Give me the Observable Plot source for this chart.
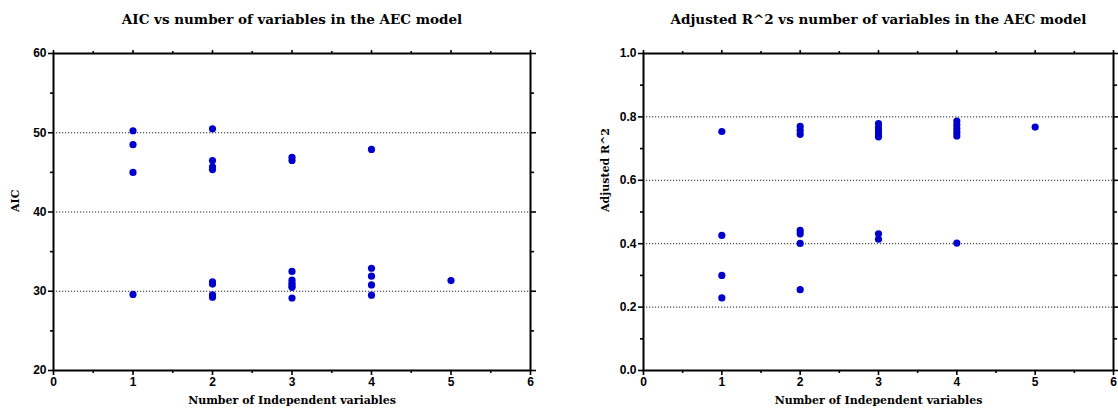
<!DOCTYPE html>
<html>
<head>
<meta charset="utf-8">
<script src="https://cdn.jsdelivr.net/npm/d3@7"></script>
<script src="https://cdn.jsdelivr.net/npm/@observablehq/plot@0.6"></script>
<style>
  html, body { margin: 0; padding: 0; background: #fff; }
  #wrap { position: relative; width: 1118px; height: 412px; overflow: hidden; }
  #left, #right { position: absolute; top: 0; }
  #left { left: 0; }
  #right { left: 559px; }
</style>
</head>
<body>
<div id="wrap"><div id="left"></div><div id="right"></div></div>
<script>
// ---- Data ----
const aicX = [1,1,1,1, 2,2,2,2,2,2,2,2, 3,3,3,3,3,3,3,3, 4,4,4,4,4, 5];
const aicY = [50.25,48.5,45.0,29.6, 50.5,46.5,45.7,45.35,31.2,30.9,29.55,29.25, 46.9,46.5,32.5,31.4,31.0,30.7,30.5,29.15, 47.9,32.9,31.9,30.8,29.5, 31.35];

const r2X = [1,1,1,1, 2,2,2,2,2,2,2, 3,3,3,3,3,3,3, 4,4,4,4,4,4, 5];
const r2Y = [0.754,0.426,0.300,0.229, 0.770,0.757,0.745,0.442,0.431,0.401,0.255, 0.779,0.766,0.757,0.747,0.737,0.431,0.414, 0.787,0.775,0.763,0.751,0.740,0.402, 0.768];

const xMajor = [0,1,2,3,4,5,6];
const xMinor = [0.5,1.5,2.5,3.5,4.5,5.5];

const aicMajor = [20,30,40,50,60];
const aicMinor = [25,35,45,55];
const aicGrid = [30,40,50];

const r2Major = [0,0.2,0.4,0.6,0.8,1.0];
const r2Minor = [0.1,0.3,0.5,0.7,0.9];
const r2Grid = [0.2,0.4,0.6,0.8];

const titles = ["AIC vs number of variables in the AEC model", "Adjusted R^2 vs number of variables in the AEC model"];
const xLabel = "Number of Independent variables";
const yLabels = ["AIC", "Adjusted R^2"];

const dotColor = "#0000cc";
const serif = "DejaVu Serif";
const sans = "Liberation Sans";

function panel({xs, ys, yDomain, yMajor, yMinor, yGrid, yFmt, title, ylabel, marginLeft, marginRight, ylabelDx}) {
  const data = xs.map((x, i) => ({x, y: ys[i]}));
  return Plot.plot({
    width: 559,
    height: 412,
    marginTop: 53,
    marginBottom: 42,
    marginLeft,
    marginRight,
    style: {fontFamily: sans, fontWeight: "bold", fontSize: "12px", color: "#000", background: "#fff", overflow: "visible"},
    x: {domain: [0, 6]},
    y: {domain: yDomain},
    marks: [
      Plot.gridY(yGrid, {stroke: "#222", strokeOpacity: 1, strokeDasharray: "1.2,1.8", strokeWidth: 1}),
      // bottom axis
      Plot.axisX(xMajor, {anchor: "bottom", tickSize: 5, tickPadding: 2, strokeWidth: 1.6, label: null, fontWeight: "bold", fontSize: 12, fontFamily: sans}),
      Plot.axisX(xMinor, {anchor: "bottom", tickSize: 3, strokeWidth: 1.6, text: null, label: null}),
      // top axis ticks
      Plot.axisX(xMajor, {anchor: "top", tickSize: 4, strokeWidth: 1.6, text: null, label: null}),
      Plot.axisX(xMinor, {anchor: "top", tickSize: 3, strokeWidth: 1.6, text: null, label: null}),
      // left axis
      Plot.axisY(yMajor, {anchor: "left", tickSize: 5, tickPadding: 2, strokeWidth: 1.6, label: null, tickFormat: yFmt, fontWeight: "bold", fontSize: 12, fontFamily: sans}),
      Plot.axisY(yMinor, {anchor: "left", tickSize: 3, strokeWidth: 1.6, text: null, label: null}),
      // right axis ticks
      Plot.axisY(yMajor, {anchor: "right", tickSize: 5, strokeWidth: 1.6, text: null, label: null}),
      Plot.axisY(yMinor, {anchor: "right", tickSize: 3, strokeWidth: 1.6, text: null, label: null}),
      Plot.frame({stroke: "#000", strokeWidth: 2}),
      Plot.dot(data, {x: "x", y: "y", r: 3.6, fill: dotColor, stroke: "none"}),
      Plot.text([title], {frameAnchor: "top", dy: -39, fontFamily: serif, fontWeight: "bold", fontSize: 13.5, fill: "#000"}),
      Plot.text([xLabel], {frameAnchor: "bottom", dy: 33, fontFamily: serif, fontWeight: "bold", fontSize: 11, fill: "#000"}),
      Plot.text([ylabel], {frameAnchor: "left", dx: ylabelDx, rotate: -90, fontFamily: serif, fontWeight: "bold", fontSize: 11, fill: "#000"})
    ]
  });
}

document.getElementById("left").append(panel({
  xs: aicX, ys: aicY, yDomain: [20, 60], yMajor: aicMajor, yMinor: aicMinor, yGrid: aicGrid,
  yFmt: d3.format("d"), title: titles[0], ylabel: yLabels[0], marginLeft: 53, marginRight: 29, ylabelDx: -38
}));
document.getElementById("right").append(panel({
  xs: r2X, ys: r2Y, yDomain: [0, 1], yMajor: r2Major, yMinor: r2Minor, yGrid: r2Grid,
  yFmt: d3.format(".1f"), title: titles[1], ylabel: yLabels[1], marginLeft: 84, marginRight: 5, ylabelDx: -38
}));
</script>
</body>
</html>
